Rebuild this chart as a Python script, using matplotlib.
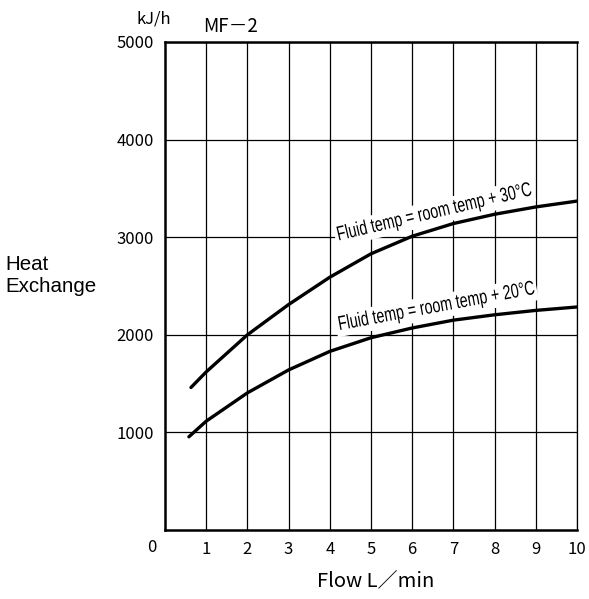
import matplotlib
matplotlib.use("Agg")
import matplotlib.pyplot as plt
from matplotlib.patheffects import AbstractPathEffect
from matplotlib.transforms import Affine2D
from matplotlib.path import Path
import numpy as np

flow_30 = [0.63, 1, 2, 3, 4, 5, 6, 7, 8, 9, 10]
heat_30 = [1460, 1620, 2000, 2310, 2590, 2830, 3010, 3140, 3235, 3310, 3370]
flow_20 = [0.58, 1, 2, 3, 4, 5, 6, 7, 8, 9, 10]
heat_20 = [955, 1115, 1405, 1640, 1830, 1970, 2070, 2150, 2205, 2250, 2285]
x_ticks = [1, 2, 3, 4, 5, 6, 7, 8, 9, 10]
y_ticks = [1000, 2000, 3000, 4000, 5000]
label_30 = "Fluid temp = room temp + 30°C"
label_20 = "Fluid temp = room temp + 20°C"

jp = ['Noto Sans CJK JP', 'DejaVu Sans']


class Squeeze(AbstractPathEffect):
    """Draw text glyphs horizontally condensed, on a white rectangle."""

    def __init__(self, sx, pad_px=2.5):
        super().__init__()
        self.sx = sx
        self.pad_px = pad_px

    def draw_path(self, renderer, gc, tpath, affine, rgbFace=None):
        v = tpath.vertices
        if len(v) == 0:
            return
        w = v[:, 0].max() + v[:, 0].min()
        pre = Affine2D().scale(self.sx, 1).translate((1 - self.sx) * w / 2, 0)
        tr = pre + affine
        m = affine.get_matrix()[:2, :2]
        s = np.sqrt(abs(np.linalg.det(m)))
        pad = self.pad_px / s
        pv = pre.transform(v)
        x0, x1 = pv[:, 0].min() - pad, pv[:, 0].max() + pad
        y0, y1 = pv[:, 1].min() - pad, pv[:, 1].max() + pad
        rect = Path([(x0, y0), (x1, y0), (x1, y1), (x0, y1), (x0, y0)], closed=True)
        g0 = renderer.new_gc()
        g0.copy_properties(gc)
        g0.set_foreground('white')
        g0.set_linewidth(0)
        renderer.draw_path(g0, rect, affine, (1, 1, 1, 1))
        g0.restore()
        renderer.draw_path(gc, tpath, tr, rgbFace)


fig = plt.figure(figsize=(5.89, 5.99), dpi=100)
ax = fig.add_axes([165/589, 69/599, 412/589, 488/599])
ax.set_xlim(0, 10)
ax.set_ylim(0, 5000)

for xv in x_ticks:
    ax.axvline(xv, color='black', lw=0.9, zorder=1)
for yv in y_ticks:
    ax.axhline(yv, color='black', lw=0.9, zorder=1)

ax.plot(flow_30, heat_30, color='black', lw=2.4, solid_capstyle='round', zorder=3)
ax.plot(flow_20, heat_20, color='black', lw=2.4, solid_capstyle='round', zorder=3)

for s in ['left', 'bottom', 'top']:
    ax.spines[s].set_linewidth(1.8)
ax.spines['right'].set_linewidth(0.9)

ax.set_xticks(x_ticks)
ax.set_yticks(y_ticks)
ax.tick_params(length=0, pad=8)
ax.set_xticklabels([str(v) for v in x_ticks], fontsize=12, family=jp)
ax.set_yticklabels([str(v) for v in y_ticks], fontsize=12, family=jp)

renderer = fig.canvas.get_renderer()
target_len = 200.0
for lab, (xc, yc), rot in [(label_30, (6.575, 3200), 13.2), (label_20, (6.62, 2234), 10.5)]:
    t = ax.text(xc, yc, lab, ha='center', va='baseline', rotation=0,
                rotation_mode='anchor', fontsize=14.5,
                family=['Liberation Sans', 'DejaVu Sans'], zorder=2)
    w = t.get_window_extent(renderer).width
    t.set_path_effects([Squeeze(target_len / w)])
    t.set_rotation(rot)

fig.text(152/589, 1 - 548/599, "0", fontsize=12, family=jp, ha='center', va='center')
fig.text(5/589, 1 - 276/599, "Heat\nExchange", fontsize=14.8, family=['Liberation Sans', 'DejaVu Sans'],
         ha='left', va='center', linespacing=1.2)
fig.text(137/589, 1 - 19/599, "kJ/h", fontsize=12, family=jp, ha='left', va='center')
fig.text(203/589, 1 - 27/599, "MF－2", fontsize=13.5, family=jp, ha='left', va='center')
fig.text(317/589, 1 - 581/599, "Flow L／min", fontsize=14.5, family=jp, ha='left', va='center')

fig.savefig("out.png", dpi=100)
